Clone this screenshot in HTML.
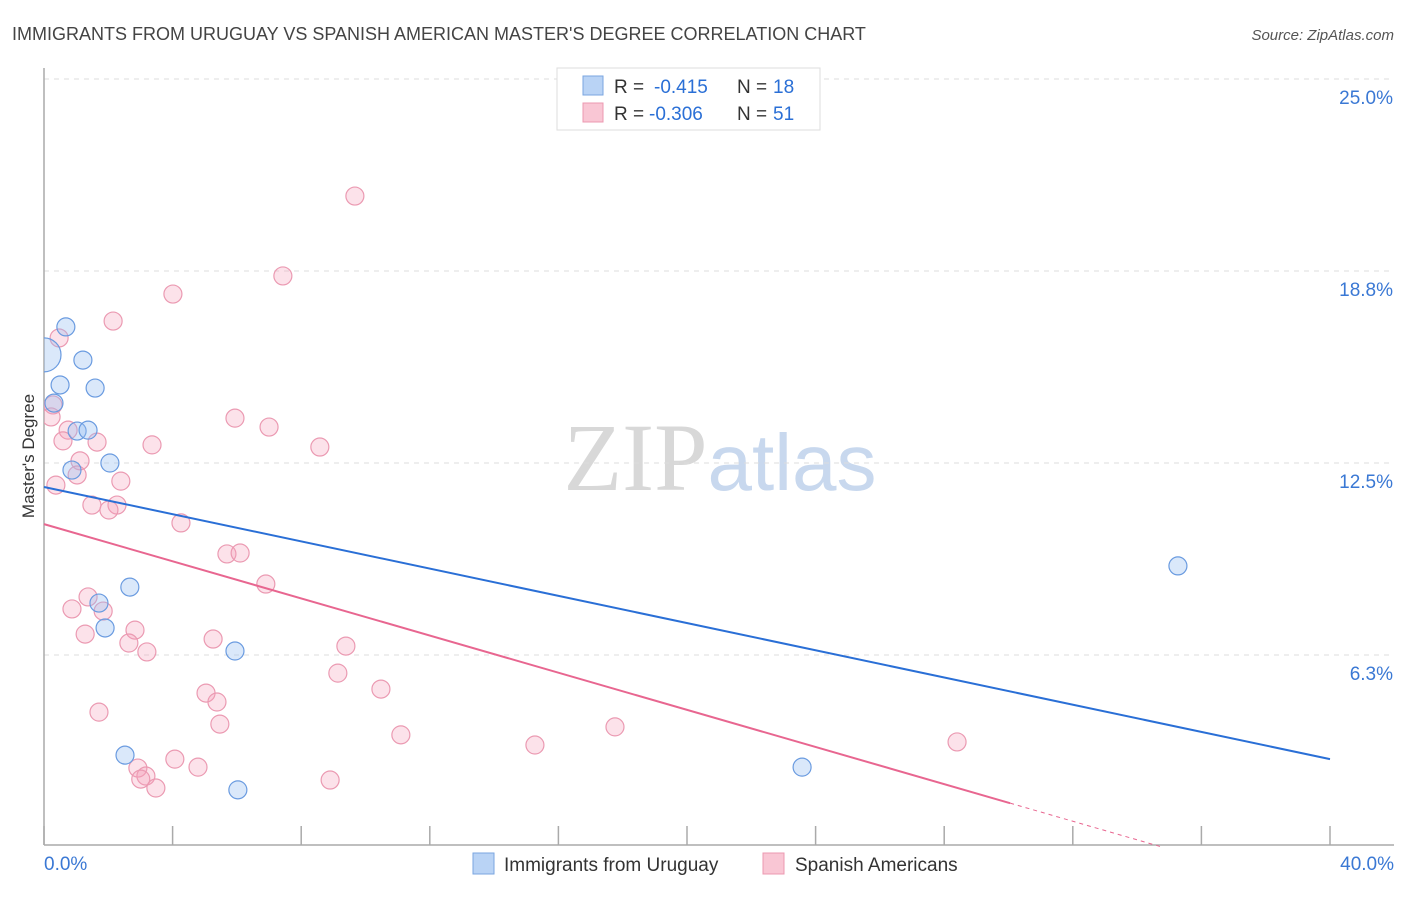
<!DOCTYPE html>
<html><head><meta charset="utf-8"><style>
body{margin:0;background:#fff;font-family:"Liberation Sans",sans-serif;}
svg text{font-family:"Liberation Sans",sans-serif;}
</style></head><body>
<svg id="chart" width="1406" height="892" xmlns="http://www.w3.org/2000/svg">
<defs><clipPath id="plotclip"><rect x="44" y="60" width="1360" height="790"/></clipPath></defs>
<text x="12" y="40" font-size="18" fill="#444">IMMIGRANTS FROM URUGUAY VS SPANISH AMERICAN MASTER'S DEGREE CORRELATION CHART</text>
<text x="1394" y="40" font-size="15" fill="#555" text-anchor="end" font-style="italic">Source: ZipAtlas.com</text>
<text x="720" y="490" font-size="96" text-anchor="middle"><tspan fill="#d8d8d8" font-family="Liberation Serif">ZIP</tspan><tspan fill="#c8d8ee" font-size="80">atlas</tspan></text>
<text transform="translate(34,456) rotate(-90)" font-size="17" fill="#333" text-anchor="middle">Master's Degree</text>
<g id="grid"></g><g id="marks" clip-path="url(#plotclip)"></g><g id="lines"></g>
<g>
<rect x="557" y="68" width="263" height="62" fill="#fff" stroke="#ddd"/>
<rect x="583" y="76" width="20" height="19" fill="#b9d3f5" stroke="#7aa6e0"/>
<rect x="583" y="103" width="20" height="19" fill="#f9c6d4" stroke="#ec98b0"/>
<text x="614" y="93" font-size="19" fill="#333">R =</text>
<text x="654" y="93" font-size="19" fill="#2a6fd6">-0.415</text>
<text x="737" y="93" font-size="19" fill="#333">N =</text>
<text x="773" y="93" font-size="19" fill="#2a6fd6">18</text>
<text x="614" y="120" font-size="19" fill="#333">R =</text>
<text x="649" y="120" font-size="19" fill="#2a6fd6">-0.306</text>
<text x="737" y="120" font-size="19" fill="#333">N =</text>
<text x="773" y="120" font-size="19" fill="#2a6fd6">51</text>
</g>
<g>
<rect x="473" y="853" width="21" height="21" fill="#b9d3f5" stroke="#7aa6e0"/>
<text x="504" y="871" font-size="19" fill="#333">Immigrants from Uruguay</text>
<rect x="763" y="853" width="21" height="21" fill="#f9c6d4" stroke="#ec98b0"/>
<text x="795" y="871" font-size="19" fill="#333">Spanish Americans</text>
</g>
</svg>
<script>
const yTicks=[25,18.75,12.5,6.25];
const yTickLabels=["25.0%","18.8%","12.5%","6.3%"];
const xTicks=[0,4,8,12,16,20,24,28,32,36,40];
const blueX=[0.68,0,1.21,0.5,1.59,0.31,1.03,1.37,0.87,2.05,2.67,1.71,1.9,5.94,2.52,6.03,23.58,35.27];
const blueY=[16.93,16.02,15.85,15.04,14.94,14.45,13.54,13.57,12.27,12.5,8.46,7.94,7.13,6.38,2.99,1.86,2.6,9.15];
const pinkX=[9.67,7.43,4.01,2.15,0.47,0.28,0.22,5.94,7.0,0.75,0.59,1.65,3.36,8.58,1.12,1.03,0.37,2.39,1.49,2.27,2.02,4.26,5.69,6.1,6.9,1.37,0.87,1.84,2.83,1.28,2.64,5.26,3.2,9.39,9.14,5.04,5.38,10.48,1.71,5.47,11.1,17.76,28.4,15.27,4.07,4.79,2.92,3.17,3.01,3.48,8.9];
const pinkY=[21.19,18.59,18.0,17.12,16.57,14.39,14.0,13.96,13.67,13.57,13.22,13.18,13.09,13.02,12.57,12.11,11.78,11.91,11.13,11.13,10.97,10.55,9.54,9.57,8.56,8.14,7.75,7.68,7.06,6.93,6.64,6.77,6.35,6.54,5.66,5.01,4.72,5.14,4.39,4.0,3.65,3.91,3.42,3.32,2.86,2.6,2.57,2.31,2.21,1.92,2.18];
const blueTrend=[11.72,2.86];
const pinkTrend=[10.51,-1.58];
const X=v=>44+v/40*1286, Y=v=>847-v/25*768;
const NS="http://www.w3.org/2000/svg";
function mk(t,a,p){const e=document.createElementNS(NS,t);for(const k in a)e.setAttribute(k,a[k]);p.appendChild(e);return e;}
const grid=document.getElementById('grid'),marks=document.getElementById('marks'),lines=document.getElementById('lines');
yTicks.forEach((v,i)=>{
 const g=mk('line',{x1:44,x2:1394,y1:Y(v),y2:Y(v),stroke:'#ddd','stroke-dasharray':'5,5'},grid);
 
 
 const t=mk('text',{x:1393,y:Y(v)+25,'font-size':19,fill:'#3a78d4','text-anchor':'end'},grid);t.textContent=yTickLabels[i];
 
 
});
let ax=mk('line',{x1:44,y1:68,x2:44,y2:845,stroke:'#aaa','stroke-width':1.5},grid);


let bx=mk('line',{x1:44,y1:845,x2:1394,y2:845,stroke:'#aaa','stroke-width':1.5},grid);


xTicks.forEach(v=>{
 const t=mk('line',{x1:X(v),x2:X(v),y1:826,y2:845,stroke:'#aaa','stroke-width':1.5},grid);
 
 
});
let l0=mk('text',{x:44,y:870,'font-size':19,fill:'#3a78d4'},grid);l0.textContent='0.0%';


let l1=mk('text',{x:1394,y:870,'font-size':19,fill:'#3a78d4','text-anchor':'end'},grid);l1.textContent='40.0%';


pinkX.forEach((v,i)=>{
 const c=mk('circle',{cx:X(v),cy:Y(pinkY[i]),r:9,fill:'rgba(244,160,185,0.3)',stroke:'#eb9ab2','stroke-width':1.2},marks);
 
 
});
blueX.forEach((v,i)=>{
 const c=mk('circle',{cx:X(v),cy:Y(blueY[i]),r:i==1?17:9,fill:'rgba(150,190,240,0.35)',stroke:'#6a9be0','stroke-width':1.2},marks);
 
 
});
const bl=mk('line',{x1:X(0),y1:Y(blueTrend[0]),x2:X(40),y2:Y(blueTrend[1]),stroke:'#2a6fd6','stroke-width':2},lines);


const pAt=x=>pinkTrend[0]+(pinkTrend[1]-pinkTrend[0])*x/40;
const xs=30.05, x0=pinkTrend[0]*40/(pinkTrend[0]-pinkTrend[1]);
const pl=mk('line',{x1:X(0),y1:Y(pAt(0)),x2:X(xs),y2:Y(pAt(xs)),stroke:'#e86690','stroke-width':2},lines);


const pd=mk('line',{x1:X(xs),y1:Y(pAt(xs)),x2:X(x0),y2:Y(0),stroke:'#e86690','stroke-width':1,'stroke-dasharray':'4,4'},lines);


</script>
</body></html>
